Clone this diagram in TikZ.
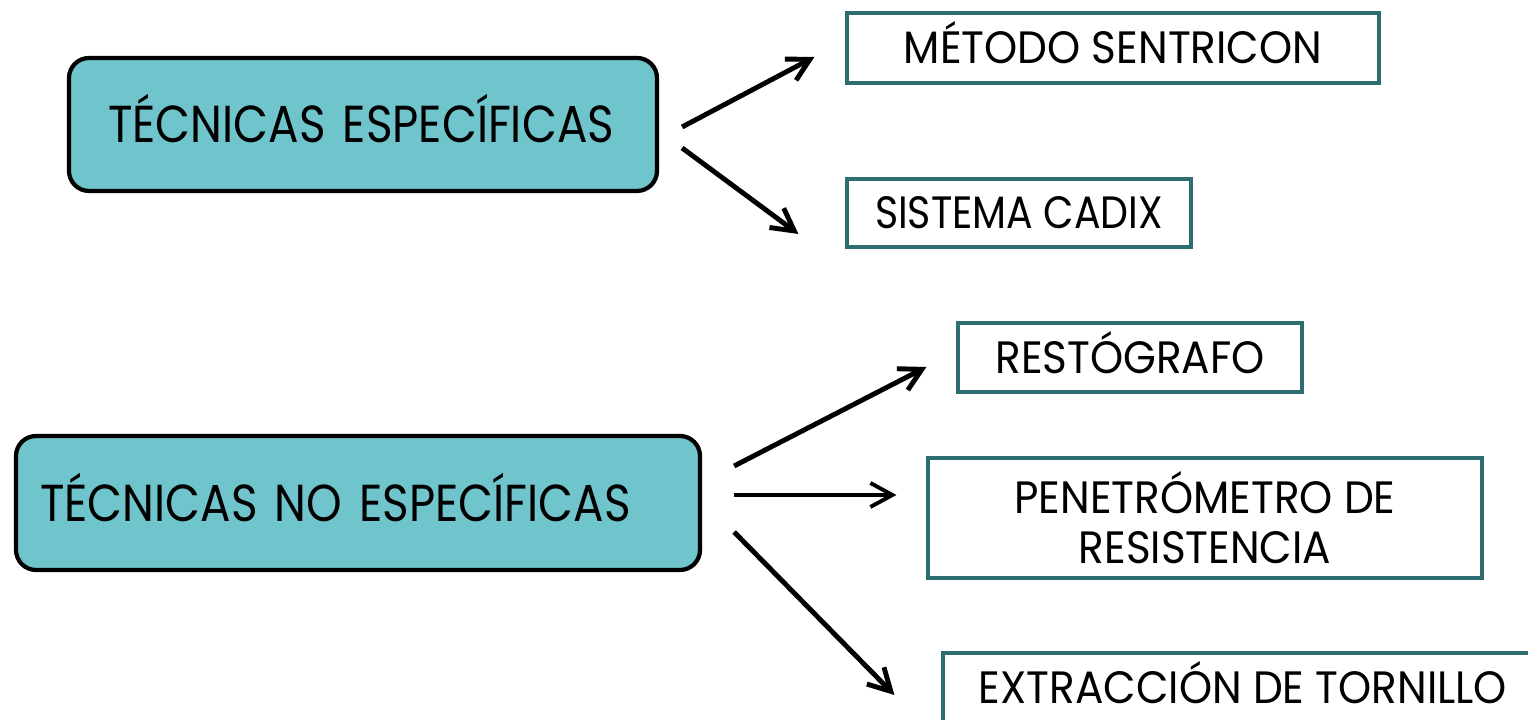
\documentclass[tikz,border=0pt]{standalone}
\usepackage{fontspec}
\setmainfont{Poppins}[FakeStretch=0.87]
\newfontfamily\methodfont{Poppins}[FakeStretch=0.93]
\usetikzlibrary{arrows.meta}

\definecolor{tealfill}{HTML}{70C5CC}
\definecolor{tealline}{HTML}{2E6E70}

\tikzset{
    technique/.style={rectangle,
    rounded corners = 0.2cm,
    draw = black,
    line width = 1.2pt,
    fill = tealfill,
    align = left,
    text height = 10.3pt,
    text depth = 0pt,
    font = \fontsize{14.8}{18}\selectfont},
    method/.style={rectangle,
    draw = tealline,
    line width = 0.9pt,
    fill = white,
    align = center,
    font = \methodfont\fontsize{12.9}{14.2}\selectfont},
    link/.style={-{Straight Barb[length=2.2mm,width=2.4mm]},
    line width = 1.4pt}
}

\begin{document}
\begin{tikzpicture}

    \useasboundingbox (0,0) rectangle (15.28,7.2);


    \node[technique,
    inner xsep = 0.39cm,
    text width = 5.10cm,
    minimum height = 1.33cm] (especificas) at (3.63,5.955) {TÉCNICAS ESPECÍFICAS};

    \node[technique,
    inner xsep = 0.24cm,
    text width = 6.36cm,
    minimum height = 1.34cm] (noespecificas) at (3.58,2.17) {TÉCNICAS NO ESPECÍFICAS};


    \node[method,
    text height = 9pt, text depth = 0pt,
    minimum width = 5.32cm,
    minimum height = 0.70cm] (sentricon) at (11.13,6.72) {MÉTODO SENTRICON};

    \node[method,
    font = \fontsize{12.9}{14.2}\selectfont,
    text height = 9pt, text depth = 0pt,
    minimum width = 3.44cm,
    minimum height = 0.68cm] (cadix) at (10.19,5.07) {SISTEMA CADIX};

    \node[method,
    text height = 9pt, text depth = 0pt,
    minimum width = 3.44cm,
    minimum height = 0.69cm] (restografo) at (11.30,3.625) {RESTÓGRAFO};

    \node[method,
    minimum width = 5.54cm,
    minimum height = 1.20cm] (penetrometro) at (12.05,2.02) {PENETRÓMETRO DE\\RESISTENCIA};

    \node[method,
    text height = 9pt, text depth = 0pt,
    minimum width = 6.00cm,
    minimum height = 0.69cm] (tornillo) at (12.43,0.325) {EXTRACCIÓN DE TORNILLO};


      \draw[link] ([shift={(0.23,-0.025)}]especificas.east) to ([shift={(-0.31,-0.09)}]sentricon.west);
      \draw[link] ([shift={(0.23,-0.235)}]especificas.east) to ([shift={(-0.47,-0.21)}]cadix.west);

      \draw[link] ([shift={(0.32,0.37)}]noespecificas.east) to ([shift={(-0.30,-0.095)}]restografo.west);
      \draw[link, line width = 1.1pt] ([shift={(0.32,0.08)}]noespecificas.east) to ([shift={(-0.30,0.23)}]penetrometro.west);
      \draw[link] ([shift={(0.32,-0.29)}]noespecificas.east) to ([shift={(-0.47,-0.075)}]tornillo.west);
  \end{tikzpicture}
\end{document}
